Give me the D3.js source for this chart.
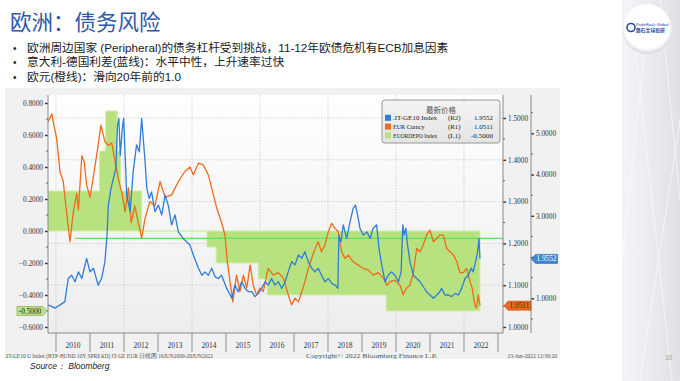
<!DOCTYPE html>
<html><head><meta charset="utf-8">
<script src="https://cdn.jsdelivr.net/npm/d3@7"></script>
<style>body{margin:0;background:#fff;} svg{display:block;}</style>
</head><body>
<svg id="c" width="680" height="381"></svg>
<script>
// ---------------- DATA ----------------
const titleText = "欧洲：债务风险";
const bullets = [
  "欧洲周边国家 (Peripheral)的债务杠杆受到挑战，11-12年欧债危机有ECB加息因素",
  "意大利-德国利差(蓝线)：水平中性，上升速率过快",
  "欧元(橙线)：滑向20年前的1.0"
];
const yearLabels = [2010,2011,2012,2013,2014,2015,2016,2017,2018,2019,2020,2021,2022];
const leftTicks = [-0.6,-0.4,-0.2,0,0.2,0.4,0.6,0.8];
const r1Ticks = [1.0,1.1,1.2,1.3,1.4,1.5];
const r2Ticks = [1,2,3,4,5];
const r2Labeled = [1,3,4,5];   // 2.0000 is hidden behind the last-price tag
const legendNames = [".IT-GE10 Index", "EUR Curncy", "EUORDEPO Index"];
const legendAxes = ["(R2)", "(R1)", "(L1)"];
const legendLast = ["1.9552", "1.0511", "-0.5000"];

// EUR Curncy (R1): [decimal year, value]
const eurSeries = [
 [2009.76,1.49],[2009.88,1.51],[2009.91,1.495],[2010.02,1.45],[2010.12,1.37],[2010.21,1.35],[2010.31,1.276],
 [2010.41,1.204],[2010.51,1.276],[2010.61,1.32],[2010.66,1.28],[2010.76,1.41],[2010.83,1.395],[2010.90,1.34],
 [2011.00,1.31],[2011.10,1.36],[2011.24,1.435],[2011.32,1.483],[2011.44,1.443],[2011.54,1.435],[2011.64,1.44],
 [2011.74,1.395],[2011.83,1.356],[2011.95,1.316],[2012.03,1.276],[2012.13,1.333],[2012.21,1.25],[2012.32,1.29],
 [2012.42,1.25],[2012.52,1.213],[2012.62,1.26],[2012.76,1.30],[2012.91,1.29],[2013.06,1.348],[2013.21,1.31],
 [2013.40,1.316],[2013.60,1.348],[2013.79,1.372],[2013.94,1.383],[2014.04,1.364],[2014.19,1.392],[2014.33,1.388],
 [2014.48,1.364],[2014.63,1.316],[2014.73,1.284],[2014.87,1.25],[2014.97,1.22],[2015.04,1.156],[2015.12,1.108],
 [2015.20,1.06],[2015.31,1.124],[2015.41,1.085],[2015.51,1.124],[2015.61,1.093],[2015.71,1.148],[2015.80,1.10],
 [2015.90,1.077],[2016.00,1.093],[2016.10,1.085],[2016.24,1.14],[2016.39,1.124],[2016.54,1.13],[2016.69,1.117],
 [2016.83,1.077],[2016.93,1.053],[2017.03,1.069],[2017.13,1.06],[2017.23,1.085],[2017.32,1.108],[2017.42,1.14],
 [2017.52,1.164],[2017.62,1.188],[2017.71,1.204],[2017.81,1.18],[2017.91,1.196],[2018.01,1.228],[2018.11,1.248],
 [2018.21,1.236],[2018.30,1.228],[2018.40,1.18],[2018.50,1.164],[2018.60,1.172],[2018.74,1.156],[2018.89,1.148],
 [2019.04,1.14],[2019.19,1.136],[2019.33,1.124],[2019.48,1.13],[2019.63,1.117],[2019.73,1.10],[2019.82,1.108],
 [2019.97,1.112],[2020.12,1.10],[2020.21,1.077],[2020.31,1.093],[2020.41,1.10],[2020.51,1.13],[2020.61,1.188],
 [2020.71,1.18],[2020.80,1.196],[2020.90,1.22],[2021.00,1.232],[2021.10,1.204],[2021.20,1.212],[2021.29,1.22],
 [2021.39,1.22],[2021.49,1.188],[2021.59,1.18],[2021.69,1.172],[2021.79,1.156],[2021.88,1.13],[2021.98,1.13],
 [2022.08,1.14],[2022.18,1.108],[2022.24,1.093],[2022.32,1.053],[2022.37,1.045],[2022.42,1.077],[2022.47,1.0511]
];

// .IT-GE10 Index, BTP-Bund 10Y spread (R2): [decimal year, value]
const spreadSeries = [
 [2009.77,0.84],[2009.97,0.76],[2010.12,0.84],[2010.26,0.92],[2010.36,1.48],[2010.46,1.56],[2010.56,1.40],
 [2010.66,1.64],[2010.76,1.48],[2010.90,1.97],[2011.00,1.64],[2011.10,1.73],[2011.24,1.32],[2011.34,1.48],
 [2011.44,1.89],[2011.50,2.53],[2011.54,3.26],[2011.62,3.67],[2011.69,3.91],[2011.76,4.15],[2011.81,5.20],
 [2011.85,5.36],[2011.89,4.47],[2011.95,5.12],[2011.99,5.36],[2012.08,3.50],[2012.18,3.10],[2012.27,4.07],
 [2012.37,4.72],[2012.45,4.55],[2012.52,5.36],[2012.62,4.31],[2012.67,3.67],[2012.74,3.42],[2012.81,3.58],
 [2012.91,3.10],[2013.01,3.26],[2013.11,3.02],[2013.21,3.50],[2013.30,3.26],[2013.40,2.78],[2013.50,3.02],
 [2013.60,2.61],[2013.74,2.45],[2013.84,2.37],[2013.94,2.29],[2014.04,2.05],[2014.19,1.73],[2014.29,1.56],
 [2014.38,1.64],[2014.48,1.56],[2014.58,1.73],[2014.68,1.52],[2014.77,1.48],[2014.87,1.56],[2015.02,1.24],
 [2015.17,1.00],[2015.26,1.32],[2015.36,1.16],[2015.46,1.40],[2015.56,1.24],[2015.66,1.16],[2015.76,1.16],
 [2015.85,1.04],[2015.95,1.12],[2016.05,1.24],[2016.15,1.40],[2016.24,1.32],[2016.34,1.48],[2016.44,1.32],
 [2016.54,1.40],[2016.64,1.24],[2016.74,1.40],[2016.83,1.64],[2016.93,1.89],[2017.03,1.81],[2017.13,2.05],
 [2017.23,1.97],[2017.32,2.13],[2017.42,1.89],[2017.52,1.73],[2017.62,1.64],[2017.71,1.73],[2017.81,1.56],
 [2017.91,1.40],[2018.01,1.48],[2018.11,1.36],[2018.21,1.32],[2018.29,1.24],[2018.32,2.53],[2018.38,2.37],
 [2018.45,2.78],[2018.55,2.45],[2018.65,2.86],[2018.74,3.18],[2018.81,3.26],[2018.87,3.02],[2018.94,2.70],
 [2019.04,2.53],[2019.14,2.61],[2019.24,2.45],[2019.33,2.70],[2019.43,2.78],[2019.50,2.21],[2019.58,1.81],
 [2019.68,1.40],[2019.77,1.56],[2019.87,1.64],[2019.97,1.56],[2020.07,1.40],[2020.15,1.64],[2020.20,2.78],
 [2020.24,2.53],[2020.29,2.70],[2020.34,2.29],[2020.41,1.89],[2020.51,1.56],[2020.61,1.48],[2020.71,1.40],
 [2020.80,1.28],[2020.90,1.16],[2021.00,1.08],[2021.10,1.00],[2021.20,1.08],[2021.29,1.16],[2021.34,1.24],
 [2021.44,1.08],[2021.54,1.08],[2021.64,1.04],[2021.74,1.12],[2021.83,1.08],[2021.93,1.24],[2022.03,1.48],
 [2022.13,1.56],[2022.21,1.73],[2022.27,1.64],[2022.34,1.89],[2022.40,2.13],[2022.44,2.45],[2022.47,1.9552]
];

// EUORDEPO Index, ECB deposit rate (L1): [start decimal year, rate]
const depoSteps = [
 [2009.76,0.25],[2011.28,0.5],[2011.46,0.75],[2011.80,0.5],[2011.90,0.25],[2012.52,0],
 [2014.44,-0.1],[2014.71,-0.2],[2015.95,-0.3],[2016.21,-0.4],[2019.71,-0.5],[2022.47,-0.5]
];
// horizontal reference line drawn on the chart (EUR level, start year)
const refLine = {start: 2010.56, eur: 1.212};

// ---------------- LAYOUT ----------------
const svg = d3.select("#c");
const X0 = 48, X1 = 503, Y0 = 95, Y1 = 333;
const x = d3.scaleLinear().domain([2010, 2023]).range([56, 498]);
const yL = d3.scaleLinear().domain([-0.6375, 0.85]).range([Y1, Y0]);
const yR1 = d3.scaleLinear().domain([1.0, 1.5]).range([327, 118]);
const yR2 = d3.scaleLinear().domain([1, 5]).range([298.3, 133.3]);

const defs = svg.append("defs");
const g1 = defs.append("linearGradient").attr("id","plotbg").attr("x1",0).attr("y1",0).attr("x2",0).attr("y2",1);
g1.append("stop").attr("offset","0%").attr("stop-color","#ffffff");
g1.append("stop").attr("offset","100%").attr("stop-color","#ededed");
const g2 = defs.append("linearGradient").attr("id","deco").attr("x1",0).attr("y1",0).attr("x2",1).attr("y2",0);
g2.append("stop").attr("offset","0%").attr("stop-color","#f4f5f7");
g2.append("stop").attr("offset","100%").attr("stop-color","#dfe1e7");
const g3 = defs.append("linearGradient").attr("id","legbg").attr("x1",0).attr("y1",0).attr("x2",0).attr("y2",1);
g3.append("stop").attr("offset","0%").attr("stop-color","#f4f4f4");
g3.append("stop").attr("offset","100%").attr("stop-color","#e4e4e4");
const rg = defs.append("radialGradient").attr("id","logo").attr("cx","50%").attr("cy","45%").attr("r","55%");
rg.append("stop").attr("offset","80%").attr("stop-color","#ffffff");
rg.append("stop").attr("offset","100%").attr("stop-color","#d6d8de");
defs.append("clipPath").attr("id","clip").append("rect").attr("x",X0).attr("y",Y0).attr("width",X1-X0).attr("height",Y1-Y0);

// right decoration panel
svg.append("rect").attr("x",622).attr("y",0).attr("width",58).attr("height",381).attr("fill","url(#deco)");
[[630,0,672,381],[650,0,622,260],[680,120,640,381],[660,0,680,200]].forEach(l=>
  svg.append("line").attr("x1",l[0]).attr("y1",l[1]).attr("x2",l[2]).attr("y2",l[3]).attr("stroke","#ffffff").attr("stroke-opacity",0.6));
// logo
svg.append("circle").attr("cx",647).attr("cy",29).attr("r",25).attr("fill","url(#logo)");
svg.append("circle").attr("cx",631).attr("cy",27.5).attr("r",4).attr("fill","none").attr("stroke","#2a4a9a").attr("stroke-width",1.6);
svg.append("text").attr("x",636).attr("y",26).attr("font-size",4.2).attr("fill","#2a4a9a").attr("font-family","Liberation Sans").text("PrideRock Global");
svg.append("text").attr("x",636).attr("y",31.5).attr("font-size",4.8).attr("fill","#2a4a9a").attr("font-family","Noto Sans CJK SC").attr("font-weight","bold").text("磐石全球投研");
svg.append("text").attr("x",665).attr("y",360).attr("font-size",6.5).attr("fill","#a0a0a0").attr("font-family","Liberation Sans").text("10");

// title and bullets
svg.append("text").attr("x",10).attr("y",30).attr("font-size",21.5).attr("fill","#2e58a6")
  .attr("font-family","Noto Sans CJK SC").text(titleText);
bullets.forEach((b,i)=>{
  const yy = 52 + i*14.4;
  svg.append("text").attr("x",13).attr("y",yy).attr("font-size",10).attr("fill","#222").attr("font-family","Liberation Sans").text("•");
  svg.append("text").attr("x",27).attr("y",yy).attr("font-size",11.7).attr("fill","#1a1a1a")
    .attr("font-family","'Liberation Sans', 'Noto Sans CJK SC'").text(b);
});

// bloomberg panel
svg.append("rect").attr("x",5).attr("y",88).attr("width",555).attr("height",271).attr("fill","#f1f1f1");
svg.append("rect").attr("x",X0).attr("y",Y0).attr("width",X1-X0).attr("height",Y1-Y0).attr("fill","url(#plotbg)");

// grid
const grid = svg.append("g").attr("stroke","#c8c8c8").attr("stroke-dasharray","1.5,1.5").attr("stroke-width",0.8);
r1Ticks.filter(v=>v>1.0).forEach(v=>grid.append("line").attr("x1",X0).attr("x2",X1).attr("y1",yR1(v)).attr("y2",yR1(v)));
yearLabels.filter(yr=>yr%2===0).forEach(yr=>grid.append("line").attr("x1",x(yr)).attr("x2",x(yr)).attr("y1",Y0).attr("y2",Y1));

const plot = svg.append("g").attr("clip-path","url(#clip)");
// deposit rate area
const depoArea = d3.area().curve(d3.curveStepAfter).x(d=>x(d[0])).y0(yL(0)).y1(d=>yL(d[1]));
plot.append("path").datum(depoSteps).attr("d",depoArea).attr("fill","#b7e27f").attr("stroke","#cdeeae").attr("stroke-width",1);
// reference line
plot.append("line").attr("x1",x(refLine.start)).attr("x2",X1).attr("y1",yR1(refLine.eur)).attr("y2",yR1(refLine.eur))
  .attr("stroke","#5ee35e").attr("stroke-width",1.1);
// series lines
plot.append("path").datum(eurSeries).attr("d",d3.line().x(d=>x(d[0])).y(d=>yR1(d[1])))
  .attr("fill","none").attr("stroke","#f06a1c").attr("stroke-width",1.3).attr("stroke-linejoin","round");
plot.append("path").datum(spreadSeries).attr("d",d3.line().x(d=>x(d[0])).y(d=>yR2(d[1])))
  .attr("fill","none").attr("stroke","#2f7dd8").attr("stroke-width",1.3).attr("stroke-linejoin","round");

// axes
const axFont = "Liberation Serif";
const fmt = d3.format(".4f");
const lAx = svg.append("g").attr("transform",`translate(${X0},0)`)
  .call(d3.axisLeft(yL).tickValues(leftTicks).tickFormat(fmt).tickSize(3).tickPadding(2));
const r1Ax = svg.append("g").attr("transform",`translate(${X1},0)`)
  .call(d3.axisRight(yR1).tickValues(r1Ticks).tickFormat(fmt).tickSize(3).tickPadding(2));
const r2Ax = svg.append("g").attr("transform",`translate(531,0)`)
  .call(d3.axisRight(yR2).tickValues(r2Ticks).tickFormat(d=>r2Labeled.includes(d)?fmt(d):"").tickSize(3).tickPadding(2));
[lAx,r1Ax,r2Ax].forEach(a=>{
  a.select(".domain").attr("stroke","#8a8a8a").attr("d",null);
  a.selectAll(".tick line").attr("stroke","#333").attr("stroke-width",1.4);
  a.selectAll(".tick text").attr("font-family",axFont).attr("font-size",7.3).attr("fill","#333");
});
// axis lines
svg.append("line").attr("x1",X0).attr("x2",X0).attr("y1",Y0).attr("y2",Y1).attr("stroke","#8a8a8a");
svg.append("line").attr("x1",X1).attr("x2",X1).attr("y1",Y0).attr("y2",Y1).attr("stroke","#8a8a8a");
svg.append("line").attr("x1",531).attr("x2",531).attr("y1",Y0).attr("y2",Y1).attr("stroke","#8a8a8a");
svg.append("line").attr("x1",X0).attr("x2",X1).attr("y1",Y1).attr("y2",Y1).attr("stroke","#8a8a8a");
// minor ticks
d3.range(-0.5,0.85,0.2).forEach(v=>svg.append("line").attr("x1",X0-2).attr("x2",X0).attr("y1",yL(v)).attr("y2",yL(v)).attr("stroke","#666"));
d3.range(1.05,1.55,0.1).forEach(v=>svg.append("line").attr("x1",X1).attr("x2",X1+2).attr("y1",yR1(v)).attr("y2",yR1(v)).attr("stroke","#666"));
d3.range(0.5,5.9,1).forEach(v=>svg.append("line").attr("x1",531).attr("x2",533).attr("y1",yR2(v)).attr("y2",yR2(v)).attr("stroke","#666"));

// x axis year band
const xb = svg.append("g");
d3.range(2010,2024).forEach(yr=>{
  xb.append("line").attr("x1",x(yr)).attr("x2",x(yr)).attr("y1",Y1).attr("y2",352).attr("stroke","#777").attr("stroke-width",0.8);
});
yearLabels.forEach(yr=>xb.append("text").attr("x",x(yr+0.5)).attr("y",348).attr("text-anchor","middle")
  .attr("font-family",axFont).attr("font-size",7.5).attr("fill","#333").text(yr));

// value tags
function tag(xTip, yv, w, dir, fill, stroke, txt, tcol){
  const h = 9, a = 4;
  let p;
  if(dir<0){ // pointing left
    p = `M${xTip},${yv} L${xTip+a},${yv-h/2} L${xTip+w},${yv-h/2} L${xTip+w},${yv+h/2} L${xTip+a},${yv+h/2} Z`;
  } else {
    p = `M${xTip},${yv} L${xTip-a},${yv-h/2} L${xTip-w},${yv-h/2} L${xTip-w},${yv+h/2} L${xTip-a},${yv+h/2} Z`;
  }
  svg.append("path").attr("d",p).attr("fill",fill).attr("stroke",stroke).attr("stroke-width",0.6);
  svg.append("text").attr("x", dir<0 ? xTip+a+ (w-a)/2 : xTip-a-(w-a)/2).attr("y",yv+2.6).attr("text-anchor","middle")
    .attr("font-family",axFont).attr("font-size",7.3).attr("fill",tcol).text(txt);
}
tag(X0-1, yL(-0.5), 30, 1, "#b9e384", "#7ea152", legendLast[2], "#222");
tag(X1+1, yR1(1.0511), 27, -1, "#ef6a1e", "#b24a10", legendLast[1], "#4a1800");
tag(531.5, yR2(1.9552), 26, -1, "#3d86da", "#2a64a8", legendLast[0], "#ffffff");

// legend
const lg = svg.append("g");
lg.append("rect").attr("x",382).attr("y",100).attr("width",118).attr("height",43).attr("rx",3)
  .attr("fill","url(#legbg)").attr("stroke","#8c8c8c").attr("stroke-width",0.9);
lg.append("text").attr("x",441).attr("y",112.5).attr("text-anchor","middle").attr("font-size",7.5)
  .attr("font-family","Noto Sans CJK SC").attr("fill","#555").text("最新价格");
const legColors = ["#2f7dd8","#f06a1c","#b7e27f"];
const cw = 3.15; // half-width character advance in the legend
legendNames.forEach((n,i)=>{
  const yy = 117.8 + i*8.8;
  lg.append("rect").attr("x",385).attr("y",yy-3).attr("width",6).attr("height",6).attr("fill",legColors[i]);
  lg.append("text").attr("x",393).attr("y",yy+2.5).attr("font-family",axFont).attr("font-size",7)
    .attr("textLength",n.length*cw).attr("lengthAdjust","spacingAndGlyphs").attr("fill","#222").text(n);
  lg.append("text").attr("x",448).attr("y",yy+2.5).attr("font-family",axFont).attr("font-size",7)
    .attr("textLength",legendAxes[i].length*cw).attr("lengthAdjust","spacingAndGlyphs").attr("fill","#222").text(legendAxes[i]);
  lg.append("text").attr("x",493 - legendLast[i].length*cw).attr("y",yy+2.5).attr("font-family",axFont).attr("font-size",7)
    .attr("textLength",legendLast[i].length*cw).attr("lengthAdjust","spacingAndGlyphs").attr("fill","#222").text(legendLast[i]);
});

// footer
const ft = svg.append("g").attr("font-family",axFont).attr("font-size",5.6).attr("fill","#555");
ft.append("text").attr("x",5).attr("y",358).attr("textLength",208).attr("lengthAdjust","spacingAndGlyphs")
  .text(".IT-GE10 U Index (BTP-BUND 10Y SPREAD) IT-GE EUR  日线图 16JUN2009-20JUN2022");
ft.append("text").attr("x",306).attr("y",358).attr("textLength",131).attr("lengthAdjust","spacingAndGlyphs")
  .text("Copyright© 2022 Bloomberg Finance L.P.");
ft.append("text").attr("x",557).attr("y",358).attr("text-anchor","end").text("23-Jun-2022 12:39:20");
svg.append("text").attr("x",30).attr("y",369).attr("font-family","Liberation Sans").attr("font-style","italic")
  .attr("font-size",8.5).attr("fill","#222").text("Source： Bloomberg");
</script>
</body></html>
